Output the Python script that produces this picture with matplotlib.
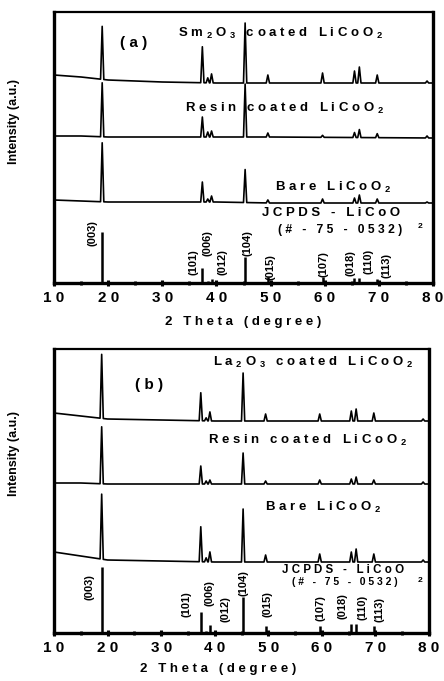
"""XRD patterns of coated LiCoO2 (two stacked panels)."""
import numpy as np
import matplotlib
matplotlib.use("Agg")
import matplotlib.pyplot as plt

plt.rcParams["font.family"] = ["Liberation Sans", "DejaVu Sans"]
plt.rcParams["font.weight"] = "bold"
plt.rcParams["mathtext.default"] = "regular"

# ---- data (y values in panel pixel units above the bottom spine) ----
PEAKS = [18.9, 37.4, 38.4, 39.1, 45.3, 49.5, 59.6, 65.5, 66.4, 69.7, 78.9]
HKL = ["(003)", "(101)", "(006)", "(012)", "(104)", "(015)",
       "(107)", "(018)", "(110)", "(113)"]
JCPDS_POS = [18.9, 37.4, 38.4, 39.1, 45.3, 49.5, 59.6, 65.5, 66.4, 69.7]

BASE_X = [10, 15, 20, 30, 40, 50, 80]

# panel (a)
a_jcpds_h = [51, 15, 2, 4, 26, 6, 6, 5, 5, 4]
a_bare_base = [83, 82, 81, 81, 81, 80, 80]
a_bare_h = [59, 20, 3, 6, 33, 3, 4, 5, 8, 4, 1]
a_resin_base = [147, 147, 146, 146, 146, 146, 145]
a_resin_h = [54, 20, 5, 6, 53, 4, 2, 5, 8, 4, 2]
a_coat_base = [208, 206, 203, 201, 200, 200, 200]
a_coat_h = [53, 36, 5, 9, 60, 8, 10, 12, 16, 8, 2]

# panel (b)
b_jcpds_h = [66, 21, 2, 8, 36, 7, 7, 9, 9, 7]
b_bare_base = [81, 77, 73, 72, 71, 71, 71]
b_bare_h = [65, 35, 4, 10, 53, 7, 8, 10, 13, 8, 2]
b_resin_base = [150, 150, 149, 149, 149, 149, 149]
b_resin_h = [57, 18, 3, 4, 31, 3, 4, 5, 7, 4, 2]
b_coat_base = [220, 217, 214, 213, 212, 212, 212]
b_coat_h = [64, 28, 3, 9, 48, 7, 7, 10, 12, 8, 2]

HW = 0.3  # half width of a drawn peak, degrees


def trace(base_y, heights):
    xs = list(BASE_X)
    for p in PEAKS:
        xs += [p - HW, p + HW]
    xs = np.array(sorted(xs))
    ys = np.interp(xs, BASE_X, base_y)
    px = np.array(PEAKS)
    ptop = np.interp(px, BASE_X, base_y) + np.array(heights)
    x = np.concatenate([xs, px])
    y = np.concatenate([ys, ptop])
    order = np.argsort(x, kind="stable")
    return x[order], y[order]


def spaced(s):
    out = []
    for word in s.split(" "):
        parts = []
        i = 0
        while i < len(word):
            if word[i] == "$":
                j = word.index("$", i + 1)
                parts.append(word[i:j + 1])
                i = j + 1
            else:
                parts.append(word[i])
                i += 1
        out.append(" ".join(parts))
    return "   ".join(out)


def panel(ax, ymax, jh, bare, resin, coat, labels, hkl_xy, tag):
    ax.vlines(JCPDS_POS, 0, jh, color="black", lw=1.8)
    for base, h in (bare, resin, coat):
        x, y = trace(base, h)
        ax.plot(x, y, color="black", lw=1.2)
    ax.set_xlim(10, 80)
    ax.set_ylim(0, ymax)
    ax.set_yticks([])
    ax.set_xticks(range(10, 81, 10))
    ax.set_xticklabels([spaced(str(v)) for v in range(10, 81, 10)],
                       fontsize=11, fontweight="bold")
    ax.set_xticks(range(15, 80, 10), minor=True)
    ax.tick_params(axis="x", which="major", direction="inout", length=4,
                   width=2.2, pad=4)
    ax.tick_params(axis="x", which="minor", direction="inout", length=3,
                   width=2.0)
    ax.spines["top"].set_linewidth(1.6)
    for s in ("left", "right", "bottom"):
        ax.spines[s].set_linewidth(2.4)
    for (tx, ty, txt, fs) in labels:
        ax.text(tx, ty, spaced(txt), fontsize=fs, fontweight="bold",
                ha="left", va="center")
    for (tx, ty), lab in zip(hkl_xy, HKL):
        ax.text(tx, ty, lab, rotation=90, fontsize=8, fontweight="bold",
                ha="center", va="center")
    ax.text(tag[0], tag[1], spaced(tag[2]), fontsize=11, fontweight="bold",
            ha="left", va="center")


fig = plt.figure(figsize=(4.44, 6.81), dpi=100)

ax1 = fig.add_axes([54 / 444, 1 - 283 / 681, 379 / 444, 271 / 681])
panel(ax1, 271, a_jcpds_h,
      (a_bare_base, a_bare_h), (a_resin_base, a_resin_h), (a_coat_base, a_coat_h),
      [(32.9, 250, "Sm$_2$O$_3$ coated LiCoO$_2$", 9.5),
       (34.2, 175, "Resin coated LiCoO$_2$", 9.5),
       (50.8, 96, "Bare LiCoO$_2$", 9.5),
       (48.4, 70, "JCPDS - LiCoO", 9.5),
       (51.4, 53, "(# - 75 - 0532)", 8.7)],
      [(17.2, 50), (35.7, 21), (38.4, 40), (41.2, 21), (45.8, 40),
       (49.9, 16), (59.7, 19), (64.7, 20), (68.0, 22), (71.5, 17)],
      (22.2, 240, "(a)"))
ax1.text(77.2, 56, "2", fontsize=6, fontweight="bold", ha="left", va="center")

ax2 = fig.add_axes([54 / 444, 1 - 633 / 681, 375 / 444, 284 / 681])
panel(ax2, 284, b_jcpds_h,
      (b_bare_base, b_bare_h), (b_resin_base, b_resin_h), (b_coat_base, b_coat_h),
      [(39.7, 271, "La$_2$O$_3$ coated LiCoO$_2$", 9.5),
       (38.7, 193, "Resin coated LiCoO$_2$", 9.5),
       (49.4, 126, "Bare LiCoO$_2$", 9.5),
       (52.6, 63, "JCPDS - LiCoO", 8.3),
       (54.4, 51, "(# - 75 - 0532)", 7.5)],
      [(16.7, 46), (34.8, 29), (39.1, 40), (42.1, 24), (45.3, 50),
       (49.8, 29), (59.7, 25), (63.9, 27), (67.5, 26), (70.7, 24)],
      (25.1, 248, "(b)"))
ax2.text(77.8, 53, "2", fontsize=6, fontweight="bold", ha="left", va="center")

fig.text(243 / 444, 1 - 322 / 681, spaced("2 Theta (degree)"), fontsize=9.5,
         fontweight="bold", ha="center", va="center")
fig.text(218 / 444, 1 - 669 / 681, spaced("2 Theta (degree)"), fontsize=9.5,
         fontweight="bold", ha="center", va="center")
fig.text(14 / 444, 1 - 122 / 681, "Intensity (a.u.)", rotation=90, fontsize=9,
         fontweight="bold", ha="center", va="center")
fig.text(14 / 444, 1 - 454 / 681, "Intensity (a.u.)", rotation=90, fontsize=9,
         fontweight="bold", ha="center", va="center")

fig.savefig("out.png", dpi=100, facecolor="white")
